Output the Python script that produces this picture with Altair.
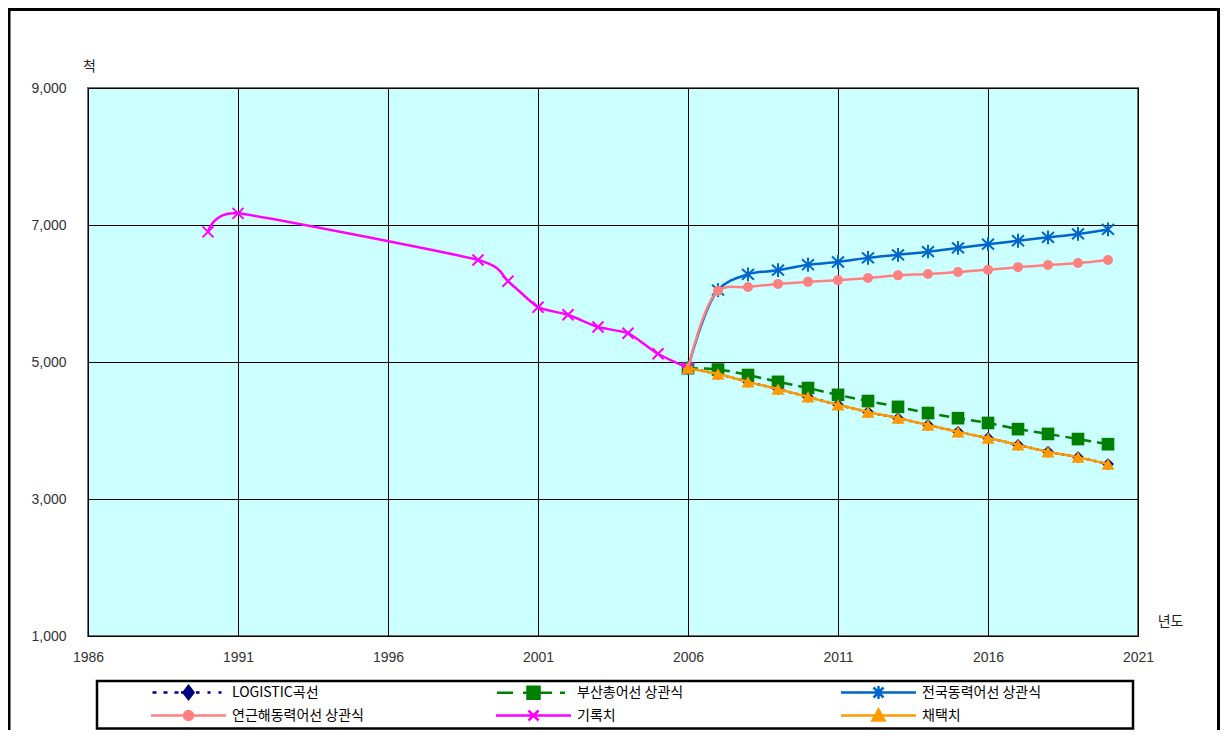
import altair as alt
import pandas as pd

# ---------------- data ----------------
NAMES = ["LOGISTIC곡선", "부산총어선 상관식", "전국동력어선 상관식",
         "연근해동력어선 상관식", "기록치", "채택치"]
COLORS = ["#000080", "#008000", "#0066CC", "#FF8080", "#FF00FF", "#FF9900"]

YEARS_PROJ = [2006, 2007, 2008, 2009, 2010, 2011, 2012, 2013,
              2014, 2015, 2016, 2017, 2018, 2019, 2020]
LOGISTIC = [4910, 4825, 4710, 4605, 4490, 4375, 4270, 4180,
            4080, 3980, 3890, 3790, 3690, 3610, 3510]
BUSAN = [4910, 4890, 4810, 4710, 4620, 4520, 4430, 4345,
         4255, 4180, 4110, 4020, 3950, 3875, 3800]
JEONGUK = [4910, 6050, 6280, 6340, 6420, 6460, 6520, 6565,
           6610, 6665, 6720, 6770, 6820, 6870, 6935]
YEONGEUN = [4910, 6040, 6095, 6140, 6170, 6195, 6225, 6265,
            6285, 6315, 6345, 6385, 6415, 6445, 6490]
ADOPTED = [4910, 4825, 4710, 4605, 4490, 4375, 4270, 4180,
           4080, 3980, 3890, 3790, 3690, 3610, 3510]

YEARS_REC = [1990, 1991, 1999, 2000, 2001, 2002, 2003, 2004, 2005, 2006]
RECORD = [6900, 7170, 6490, 6180, 5800, 5690, 5510, 5420, 5120, 4910]

X_TICKS = [1986, 1991, 1996, 2001, 2006, 2011, 2016, 2021]
Y_TICKS = [1000, 3000, 5000, 7000, 9000]

SERIES = [
    (NAMES[0], YEARS_PROJ, LOGISTIC),
    (NAMES[1], YEARS_PROJ, BUSAN),
    (NAMES[2], YEARS_PROJ, JEONGUK),
    (NAMES[3], YEARS_PROJ, YEONGEUN),
    (NAMES[4], YEARS_REC, RECORD),
    (NAMES[5], YEARS_PROJ, ADOPTED),
]

rows = []
for name, yrs, vals in SERIES:
    for yr, v in zip(yrs, vals):
        rows.append({"series": name, "year": yr, "value": v})
df = pd.DataFrame(rows)

# ---------------- styles ----------------
KFONT = "Noto Sans CJK KR"
NFONT = "Liberation Sans"

LINE_DASH = [[2.5, 4], [10, 6], None, None, None, None]
# (shape, size, filled)
MARKERS = [
    ("diamond", 140, True),
    ("square", 160, True),
    ("M-1,-0.9L1,0.9M-1,0.9L1,-0.9M0,-1.15L0,1.15", 144, False),
    ("circle", 100, True),
    ("M-1,-1L1,1M-1,1L1,-1", 121, False),
    ("triangle-up", 170, True),
]

LEGEND_PATHS = [
    "M-3.6,0L-3.2,0M-2.5,0L-2.1,0M-1.4,0L-1.0,0M-0.75,0L-0.5,0"
    "M0.75,0L1.1,0M1.9,0L2.2,0M3.0,0L3.3,0"
    "M0,-0.65L0.5,0L0,0.65L-0.5,0Z",
    "M-3.65,0L-2.05,0M-1.05,0L-0.65,0M0.65,0L1.85,0M2.65,0L3.15,0"
    "M-0.6,-0.6L0.6,-0.6L0.6,0.6L-0.6,0.6Z",
    "M-3.75,0L3.75,0M-0.5,-0.5L0.5,0.5M-0.5,0.5L0.5,-0.5M0,-0.65L0,0.65",
    "M-3.75,0L3.75,0M-0.45,0A0.45,0.45 0 1,0 0.45,0A0.45,0.45 0 1,0 -0.45,0Z",
    "M-3.75,0L3.75,0M-0.5,-0.5L0.5,0.5M-0.5,0.5L0.5,-0.5",
    "M-3.75,0L3.75,0M0,-0.6L0.6,0.5L-0.6,0.5Z",
]

x_enc = alt.X(
    "year:Q",
    scale=alt.Scale(domain=[1986, 2021], nice=False, zero=False),
    axis=alt.Axis(
        values=X_TICKS, format="d", title="년도",
        grid=True, gridColor="black", gridWidth=1,
        domain=False, ticks=False,
        labelFont=NFONT, labelFontSize=14, labelColor="#333333",
        labelPadding=14, labelFlush=False, labelOverlap=False,
        titleFont=KFONT, titleFontSize=14, titleFontWeight="normal",
        titleColor="#222222", titleAngle=0, titleX=1082, titleY=-15,
        titleAlign="center", titleBaseline="middle",
    ),
)
y_enc = alt.Y(
    "value:Q",
    scale=alt.Scale(domain=[1000, 9000], nice=False, zero=False),
    axis=alt.Axis(
        values=Y_TICKS, format=",.0f", title="척",
        grid=True, gridColor="black", gridWidth=1,
        domain=False, ticks=False,
        labelFont=NFONT, labelFontSize=14, labelColor="#333333",
        labelPadding=22, labelFlush=False, labelOverlap=False,
        titleFont=KFONT, titleFontSize=14, titleFontWeight="normal",
        titleColor="#222222", titleAngle=0, titleX=1, titleY=-22,
        titleAlign="center", titleBaseline="middle",
    ),
)

base = alt.Chart(df).encode(x=x_enc, y=y_enc)

layers = []

# decorative frames (outer border and legend box)
deco = pd.DataFrame({"k": [0]})
layers.append(
    alt.Chart(deco).mark_rect(fill="white", fillOpacity=0, stroke="black", strokeWidth=3)
    .encode(x=alt.value(-79), x2=alt.value(1130.5), y=alt.value(-78.5), y2=alt.value(720))
)
layers.append(
    alt.Chart(deco).mark_rect(fill="white", fillOpacity=0, stroke="black", strokeWidth=2.5)
    .encode(x=alt.value(9), x2=alt.value(1045), y=alt.value(593), y2=alt.value(640.5))
)

for i, name in enumerate(NAMES):
    sub = base.transform_filter(alt.datum.series == name)
    if name == "기록치":
        line_kw = dict(color=COLORS[i], strokeWidth=2.5, interpolate="cardinal", tension=0.45)
    else:
        line_kw = dict(color=COLORS[i], strokeWidth=2.5, interpolate="catmull-rom")
    if LINE_DASH[i] is not None:
        line_kw["strokeDash"] = LINE_DASH[i]
    layers.append(sub.mark_line(**line_kw))
    shp, sz, filled = MARKERS[i]
    if filled:
        layers.append(sub.mark_point(shape=shp, size=sz, filled=True,
                                     color=COLORS[i], opacity=1))
    else:
        layers.append(sub.mark_point(shape=shp, size=sz, filled=False,
                                     color=COLORS[i], strokeWidth=2, opacity=1))

legend = alt.Legend(
    title=None, orient="none", legendX=89, legendY=593,
    columns=3, direction="horizontal", gridAlign="all",
    columnPadding=127, rowPadding=0, padding=0,
    symbolSize=400, symbolStrokeWidth=2.5, symbolOpacity=1,
    labelFont=KFONT, labelFontSize=14, labelColor="#000000",
    labelOffset=32, labelLimit=400,
)
legend_layer = base.mark_point(size=0, filled=True, strokeWidth=0).encode(
    fill=alt.Fill("series:N", scale=alt.Scale(domain=NAMES, range=COLORS), legend=legend),
    stroke=alt.Stroke("series:N", scale=alt.Scale(domain=NAMES, range=COLORS), legend=legend),
    shape=alt.Shape("series:N", scale=alt.Scale(domain=NAMES, range=LEGEND_PATHS), legend=legend),
)
layers.append(legend_layer)

chart = (
    alt.layer(*layers)
    .properties(
        width=1050, height=548,
        padding={"left": 80, "top": 80, "right": 82, "bottom": 94},
        autosize=alt.AutoSizeParams(type="none"),
        background="white",
    )
    .configure_view(fill="#CCFFFF", stroke="#707070", strokeWidth=2)
)

chart.save("out.html", embed_options={"renderer": "svg", "actions": False})
